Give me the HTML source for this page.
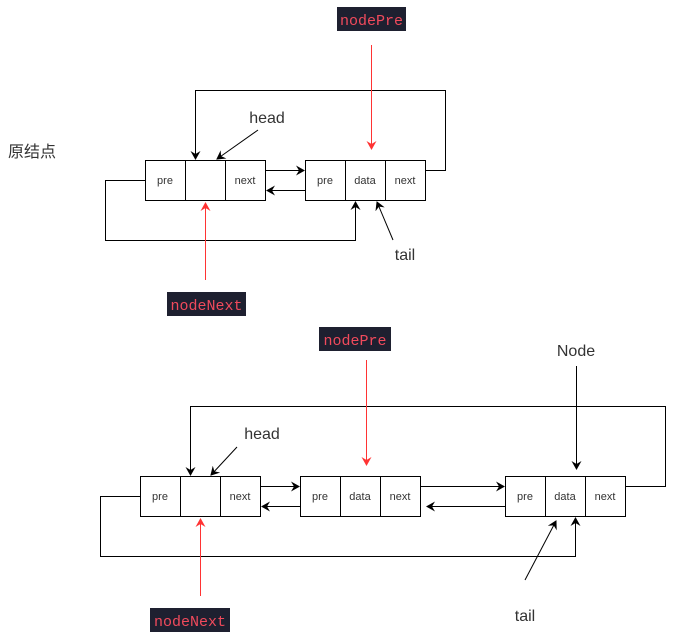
<!DOCTYPE html>
<html><head><meta charset="utf-8"><style>
html,body{margin:0;padding:0;background:#fff;width:674px;height:642px;overflow:hidden}
svg{display:block}
.c{font-family:"Liberation Sans",sans-serif;font-size:11px;fill:#333;text-anchor:middle}
.l{font-family:"Liberation Sans",sans-serif;font-size:16px;fill:#333;text-anchor:middle}
.m{font-family:"Liberation Mono","DejaVu Sans Mono",monospace;font-size:15px;fill:#f14a5c;text-anchor:middle}
</style></head><body>
<svg width="674" height="642" viewBox="0 0 674 642" xmlns="http://www.w3.org/2000/svg">
<defs>
<marker id="a" markerWidth="10" markerHeight="10" refX="8" refY="5" orient="auto" markerUnits="userSpaceOnUse"><path d="M0,0 L9,5 L0,10 L3,5 z" fill="#000"/></marker>
<marker id="r" markerWidth="10" markerHeight="10" refX="8" refY="5" orient="auto" markerUnits="userSpaceOnUse"><path d="M0,0 L9,5 L0,10 L3,5 z" fill="#f33"/></marker>
</defs>
<g fill="#fff" stroke="#000" stroke-width="1">
<rect x="145.5" y="160.5" width="40" height="40"/><rect x="185.5" y="160.5" width="40" height="40"/><rect x="225.5" y="160.5" width="40" height="40"/>
<rect x="305.5" y="160.5" width="40" height="40"/><rect x="345.5" y="160.5" width="40" height="40"/><rect x="385.5" y="160.5" width="40" height="40"/>
<rect x="140.5" y="476.5" width="40" height="40"/><rect x="180.5" y="476.5" width="40" height="40"/><rect x="220.5" y="476.5" width="40" height="40"/>
<rect x="300.5" y="476.5" width="40" height="40"/><rect x="340.5" y="476.5" width="40" height="40"/><rect x="380.5" y="476.5" width="40" height="40"/>
<rect x="505.5" y="476.5" width="40" height="40"/><rect x="545.5" y="476.5" width="40" height="40"/><rect x="585.5" y="476.5" width="40" height="40"/>
</g>
<g class="c">
<text x="165" y="184">pre</text><text x="245" y="184">next</text>
<text x="325" y="184">pre</text><text x="365" y="184">data</text><text x="405" y="184">next</text>
<text x="160" y="500">pre</text><text x="240" y="500">next</text>
<text x="320" y="500">pre</text><text x="360" y="500">data</text><text x="400" y="500">next</text>
<text x="525" y="500">pre</text><text x="565" y="500">data</text><text x="605" y="500">next</text>
</g>
<g fill="none" stroke="#000" stroke-width="1">
<path d="M425.5,170.5 H445.5 V90.5 H195.5 V159" marker-end="url(#a)"/>
<path d="M145.5,180.5 H105.5 V240.5 H355.5 V202" marker-end="url(#a)"/>
<path d="M265.5,170.5 H304" marker-end="url(#a)"/>
<path d="M305.5,190.5 H267" marker-end="url(#a)"/>
<path d="M258,130 L217,159" marker-end="url(#a)"/>
<path d="M393,240 L377,202" marker-end="url(#a)"/>
<path d="M625.5,486.5 H665.5 V406.5 H190.5 V475" marker-end="url(#a)"/>
<path d="M140.5,496.5 H100.5 V556.5 H575.5 V518" marker-end="url(#a)"/>
<path d="M260.5,486.5 H299" marker-end="url(#a)"/>
<path d="M300.5,506.5 H262" marker-end="url(#a)"/>
<path d="M420.5,486.5 H504" marker-end="url(#a)"/>
<path d="M505.5,506.5 H427" marker-end="url(#a)"/>
<path d="M237,447 L211,475" marker-end="url(#a)"/>
<path d="M576.5,366 V469" marker-end="url(#a)"/>
<path d="M525,580 L556,521" marker-end="url(#a)"/>
</g>
<g fill="none" stroke="#f33" stroke-width="1">
<path d="M371.5,45 V149" marker-end="url(#r)"/>
<path d="M205.5,280 V203" marker-end="url(#r)"/>
<path d="M366.5,360 V465" marker-end="url(#r)"/>
<path d="M200.5,596 V519" marker-end="url(#r)"/>
</g>
<rect x="337" y="7" width="69" height="24" fill="#1e2030"/><text class="m" x="371.5" y="25">nodePre</text>
<rect x="167" y="292" width="79" height="24" fill="#1e2030"/><text class="m" x="206.5" y="310">nodeNext</text>
<rect x="319" y="327" width="72" height="24" fill="#1e2030"/><text class="m" x="355" y="345">nodePre</text>
<rect x="150" y="608" width="80" height="24" fill="#1e2030"/><text class="m" x="190" y="626">nodeNext</text>
<text class="l" x="267" y="123">head</text>
<text class="l" x="405" y="260">tail</text>
<text class="l" x="262" y="439">head</text>
<text class="l" x="576" y="356">Node</text>
<text class="l" x="525" y="621">tail</text>
<text x="8" y="157" style="font-family:'Liberation Sans','Noto Sans CJK SC',sans-serif;font-size:16px;fill:#333">原结点</text>
</svg>
</body></html>
